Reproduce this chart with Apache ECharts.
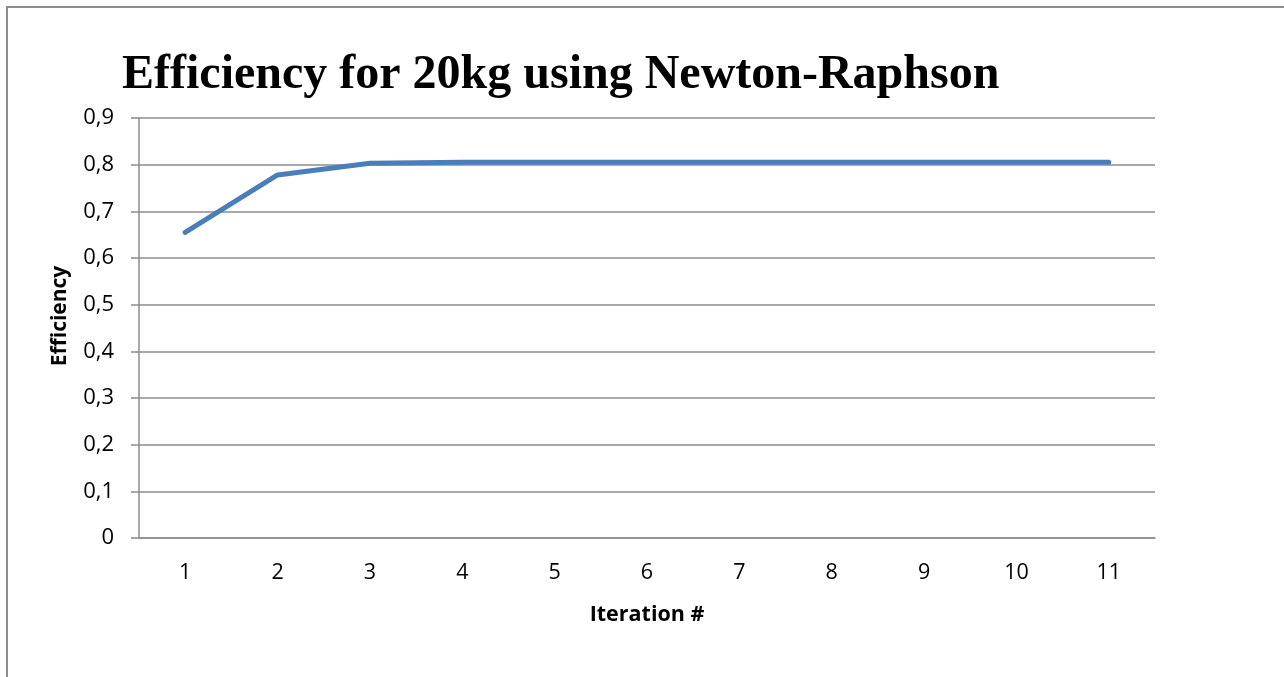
<!DOCTYPE html>
<html>
<head>
<meta charset="utf-8">
<script src="https://cdn.jsdelivr.net/npm/echarts@6/dist/echarts.min.js"></script>
<style>
  html, body { margin: 0; padding: 0; background: #fff; overflow: hidden; }
  #frame { position: absolute; left: 6px; top: 6px; width: 1400px; height: 800px;
           border-left: 2px solid #8c8c8c; border-top: 2px solid #8c8c8c; box-sizing: border-box; }
  #chart { position: absolute; left: 0; top: 0; width: 1284px; height: 677px; }
</style>
</head>
<body>
<div id="frame"></div>
<div id="chart"></div>
<script>
// Iteration numbers along the x axis
const iterations = ['1', '2', '3', '4', '5', '6', '7', '8', '9', '10', '11'];
// Efficiency reached after each Newton-Raphson iteration
const efficiency = [0.655, 0.778, 0.803, 0.805, 0.805, 0.805, 0.805, 0.805, 0.805, 0.805, 0.805];

const chart = echarts.init(document.getElementById('chart'), null, { renderer: 'canvas' });
const grey = '#8c8c8c';
const labelFont = '"Open Sans", sans-serif';

chart.setOption({
  backgroundColor: 'transparent',
  animation: false,
  title: {
    text: 'Efficiency for 20kg using Newton-Raphson',
    left: 117,
    top: 47,
    textStyle: {
      fontFamily: '"Liberation Serif", "Times New Roman", serif',
      fontWeight: 'bold',
      fontSize: 48,
      color: '#000'
    }
  },
  graphic: [{
    // vertical title of the value axis
    type: 'text',
    x: 60,
    y: 316,
    rotation: Math.PI / 2,
    style: {
      text: 'Efficiency',
      fontFamily: labelFont,
      fontWeight: 'bold',
      fontSize: 21,
      fill: '#000',
      align: 'center',
      verticalAlign: 'middle'
    }
  }],
  grid: { left: 139, right: 129, top: 118, bottom: 139, containLabel: false },
  xAxis: {
    type: 'category',
    data: iterations,
    boundaryGap: true,
    name: 'Iteration #',
    nameLocation: 'middle',
    nameGap: 66,
    nameTextStyle: { fontFamily: labelFont, fontWeight: 'bold', fontSize: 21.5, color: '#000' },
    axisLine: { show: true, lineStyle: { color: grey, width: 1.5 } },
    axisTick: { show: false },
    axisLabel: { fontFamily: labelFont, fontSize: 21.5, color: '#000', margin: 24 },
    splitLine: { show: false }
  },
  yAxis: {
    type: 'value',
    min: 0,
    max: 0.9,
    interval: 0.1,
    axisLine: { show: true, lineStyle: { color: grey, width: 1.5 } },
    axisTick: { show: true, length: 8, lineStyle: { color: grey, width: 1.5 } },
    axisLabel: {
      fontFamily: labelFont, fontSize: 22, color: '#000', margin: 25,
      formatter: v => v === 0 ? '0' : v.toFixed(1).replace('.', ',')
    },
    splitLine: { show: true, lineStyle: { color: grey, width: 1.5 } }
  },
  series: [{
    type: 'line',
    data: efficiency,
    symbol: 'none',
    lineStyle: { color: '#4a7ebb', width: 5, cap: 'round', join: 'round' }
  }]
});
</script>
</body>
</html>
